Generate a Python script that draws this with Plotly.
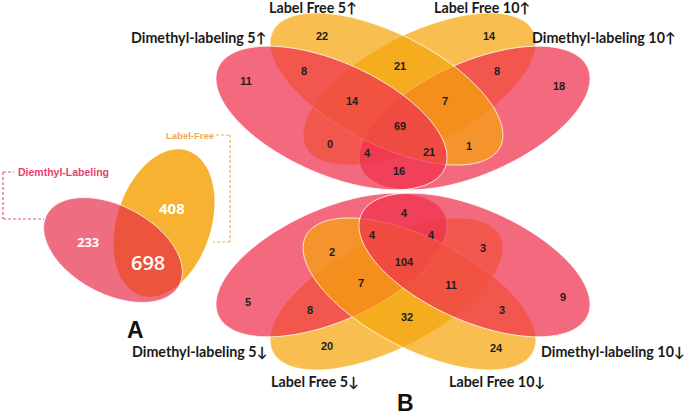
import numpy as np
import plotly.graph_objects as go

# ---------------- data ----------------
# Panel A: two-set Venn
panelA_sets = ["Diemthyl-Labeling", "Label-Free"]
panelA_regions = ["DL only", "both", "LF only"]
panelA_counts = [233, 698, 408]

# Panel B (up-regulated, top)
up_sets = ["Dimethyl-labeling 5↑", "Label Free 5↑", "Label Free 10↑", "Dimethyl-labeling 10↑"]
up_regions = ["LF5", "LF10", "DL5", "DL5&LF5", "LF5&LF10", "LF10&DL10", "DL10",
              "DL5&LF5&LF10", "LF5&LF10&DL10", "all", "DL5&LF10", "DL5&LF10&DL10",
              "DL5&LF5&DL10", "LF5&DL10", "DL5&DL10"]
up_counts = [22, 14, 11, 8, 21, 8, 18, 14, 7, 69, 0, 4, 21, 1, 16]

# Panel B (down-regulated, bottom)
down_sets = ["Dimethyl-labeling 5↓", "Label Free 5↓", "Label Free 10↓", "Dimethyl-labeling 10↓"]
down_regions = ["DL5&DL10", "DL5&LF10&DL10", "DL5&LF5&DL10", "DL5&LF10", "LF5&DL10", "all",
                "DL5&LF5&LF10", "LF5&LF10&DL10", "DL5", "DL10", "DL5&LF5", "LF10&DL10",
                "LF5&LF10", "LF5", "LF10"]
down_counts = [4, 4, 4, 2, 3, 104, 7, 11, 5, 9, 8, 3, 32, 20, 24]

panel_letters = ["A", "B"]

# ---------------- layout / style ----------------
W, H = 685, 416
PINK = "rgba(238,49,77,0.73)"
ORANGE = "rgba(245,165,12,0.72)"
ORANGE_A = "rgba(245,165,12,0.85)"
OUTLINE = dict(color="rgba(255,255,250,0.8)", width=1)

def ellipse_path(cx, cy, a, b, deg, n=120):
    t = np.linspace(0, 2 * np.pi, n, endpoint=False)
    th = np.radians(deg)
    x = cx + a * np.cos(t) * np.cos(th) - b * np.sin(t) * np.sin(th)
    y = cy + a * np.cos(t) * np.sin(th) + b * np.sin(t) * np.cos(th)
    return "M " + " L ".join(f"{xi:.2f},{yi:.2f}" for xi, yi in zip(x, y)) + " Z"

# ellipse geometry (pixel space) for the 4-set diagrams
AXIS = 403
def four_set(mirror_c=None):
    geo = {
        "DL5": (AXIS - 71.5, 118, 124, 56, 24),
        "DL10": (AXIS + 71.5, 118, 124, 56, -24),
        "LF5": (AXIS - 16.5, 89, 127.6, 55.3, 27),
        "LF10": (AXIS + 16.5, 89, 127.6, 55.3, -27),
    }
    if mirror_c is not None:
        geo = {k: (cx, mirror_c - cy, a, b, -d) for k, (cx, cy, a, b, d) in geo.items()}
    return geo

shapes = []
def add_ell(g, fill, line=OUTLINE):
    shapes.append(dict(type="path", path=ellipse_path(*g), xref="x", yref="y",
                       fillcolor=fill, line=line, layer="below"))

# Panel A ellipses
add_ell((164, 223, 76, 47, -72), ORANGE_A, dict(width=0))
add_ell((113, 250, 75, 44, 28), "rgba(232,40,70,0.68)", dict(color="rgba(255,255,255,0.7)", width=1))

# Panel B top
gt = four_set()
for k, col in [("LF10", ORANGE), ("DL10", PINK), ("LF5", ORANGE), ("DL5", PINK)]:
    add_ell(gt[k], col)
# Panel B bottom (mirrored)
gb = four_set(mirror_c=383)
for k, col in [("LF5", ORANGE), ("DL5", PINK), ("LF10", ORANGE), ("DL10", PINK)]:
    add_ell(gb[k], col)

# dashed callout lines for panel A
PINK_LINE = dict(color="#e0559a", width=1.2, dash="3px,2px")
OR_LINE = dict(color="#f0aa55", width=1.2, dash="3px,2px")
for (x0, y0, x1, y1), ln in [((3, 172, 14, 172), PINK_LINE), ((3, 172, 3, 219), PINK_LINE),
                             ((3, 219, 44, 219), PINK_LINE),
                             ((216, 135, 230, 135), OR_LINE), ((230, 135, 230, 242), OR_LINE),
                             ((230, 242, 213, 242), OR_LINE)]:
    shapes.append(dict(type="line", x0=x0, y0=y0, x1=x1, y1=y1, xref="x", yref="y",
                       line=ln, layer="below"))

# label positions (pixel layout)
up_pos = {"LF5": (322, 37), "LF10": (489, 37), "DL5": (246, 82), "DL5&LF5": (304, 72),
          "LF5&LF10": (400, 67), "LF10&DL10": (497, 72), "DL10": (559, 87),
          "DL5&LF5&LF10": (352, 102), "LF5&LF10&DL10": (445, 102), "all": (400, 127),
          "DL5&LF10": (330, 145), "DL5&LF10&DL10": (367, 154), "DL5&LF5&DL10": (429, 153),
          "LF5&DL10": (469, 147), "DL5&DL10": (399, 172)}
down_pos = {"DL5&DL10": (404, 214), "DL5&LF10&DL10": (372, 236), "DL5&LF5&DL10": (431, 236),
            "DL5&LF10": (332, 253), "LF5&DL10": (483, 249), "all": (404, 263),
            "DL5&LF5&LF10": (361, 284), "LF5&LF10&DL10": (451, 286), "DL5": (248, 303),
            "DL10": (563, 298), "DL5&LF5": (310, 311), "LF10&DL10": (502, 311),
            "LF5&LF10": (407, 318), "LF5": (327, 347), "LF10": (496, 349)}

num_font = dict(family="Liberation Sans, Arial, sans-serif", size=11, color="#1e1e1e", weight="bold")

fig = go.Figure()
for regions, counts, pos in [(up_regions, up_counts, up_pos), (down_regions, down_counts, down_pos)]:
    fig.add_trace(go.Scatter(
        x=[pos[r][0] for r in regions], y=[pos[r][1] for r in regions],
        text=[str(c) for c in counts], mode="text", textposition="middle center",
        textfont=num_font, hoverinfo="skip", showlegend=False))

# panel A numbers
a_pos = [(88, 242), (148, 262), (172, 208)]
a_sizes = [13, 20, 15]
annotations = []
for (x, y), c, s in zip(a_pos, panelA_counts, a_sizes):
    annotations.append(dict(x=x, y=y, xref="x", yref="y", text=f"<b>{c}</b>" if s != 20 else str(c),
                            showarrow=False, font=dict(family="Open Sans, sans-serif", size=s,
                                                       color="white", weight=700 if s != 20 else 600)))

# panel A set labels
annotations.append(dict(x=63, y=172, xref="x", yref="y", xanchor="center", text=f"<b>{panelA_sets[0]}</b>",
                        showarrow=False, font=dict(family="Liberation Sans, Arial", size=10.5, color="#e8406e")))
annotations.append(dict(x=190, y=135, xref="x", yref="y", xanchor="center", text=f"<b>{panelA_sets[1]}</b>",
                        showarrow=False, font=dict(family="Liberation Sans, Arial", size=9.5, color="#f0a850")))

# panel B set labels
lab_font = dict(family="Lato, sans-serif", size=14.3, color="#1a1a1a", weight=700)
set_lab = [
    (up_sets[0], 198, 37), (up_sets[1], 313, 7),
    (up_sets[2], 482, 7), (up_sets[3], 604, 37),
    (down_sets[0], 199, 351), (down_sets[1], 315, 381),
    (down_sets[2], 497, 381), (down_sets[3], 613, 351),
]
for t, x, y in set_lab:
    annotations.append(dict(x=x, y=y, xref="x", yref="y", xanchor="center", yanchor="middle",
                            text=t, showarrow=False, font=lab_font))

# panel letters
for t, (x, y) in zip(panel_letters, [(135, 330), (405, 403)]):
    annotations.append(dict(x=x, y=y, xref="x", yref="y", text=f"<b>{t}</b>", showarrow=False,
                            font=dict(family="Liberation Sans, Arial", size=23, color="#111")))

fig.update_layout(
    width=W, height=H, margin=dict(l=0, r=0, t=0, b=0),
    paper_bgcolor="white", plot_bgcolor="white",
    xaxis=dict(range=[0, W], visible=False, fixedrange=True),
    yaxis=dict(range=[H, 0], visible=False, fixedrange=True),
    shapes=shapes, annotations=annotations, showlegend=False,
)
fig.write_html("out.html", config={"displayModeBar": False},
               post_script="document.body.style.margin='0';document.body.style.padding='0';document.body.style.overflow='hidden';")
